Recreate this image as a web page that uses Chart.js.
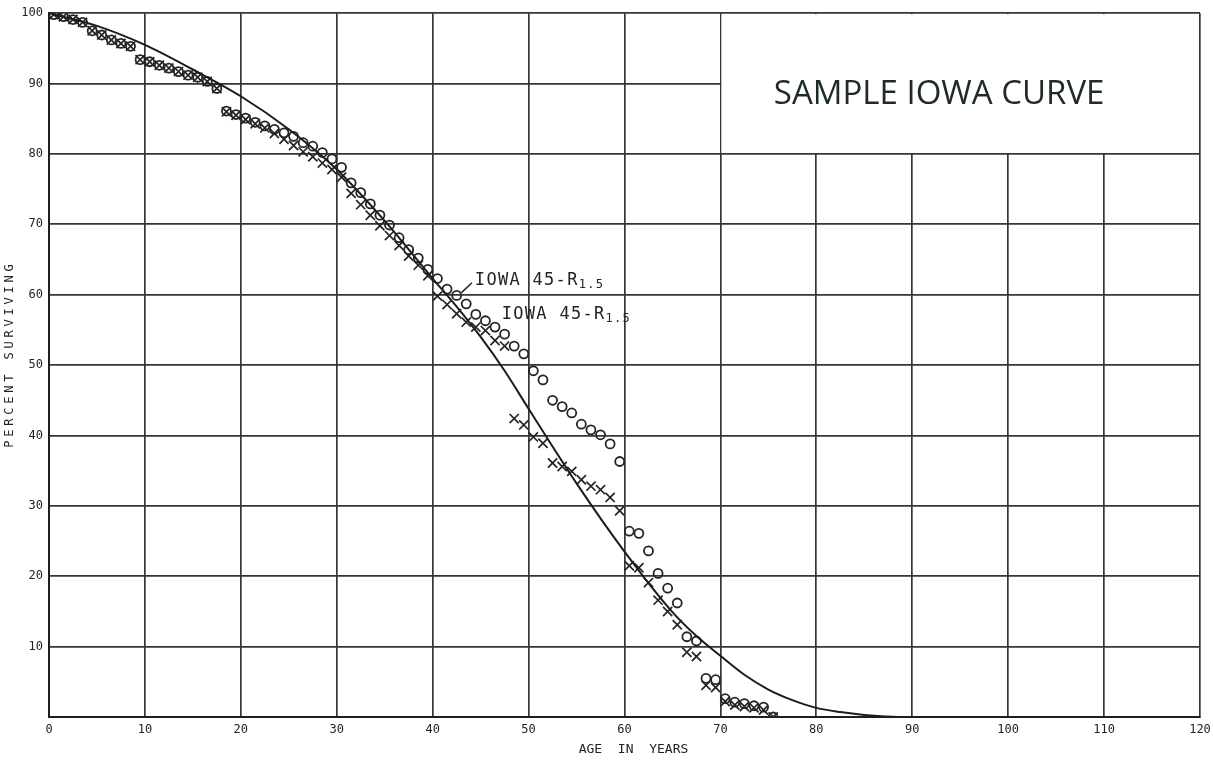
<!DOCTYPE html>
<html>
<head>
<meta charset="utf-8">
<title>Sample Iowa Curve</title>
<script src="https://cdn.jsdelivr.net/npm/chart.js@4/dist/chart.umd.min.js"></script>
<style>
  html, body { margin: 0; padding: 0; background: #fff; }
  #wrap { width: 1213px; height: 761px; }
</style>
</head>
<body>
<div id="wrap"><canvas id="iowa"></canvas></div>
<script>
// Sample Iowa curve - observed survivors vs. fitted 45-R1.5

// Age of each observed point (interval midpoints)
const AGES = [
  0.5, 1.5, 2.5, 3.5, 4.5, 5.5, 6.5, 7.5, 8.5, 9.5,
  10.5, 11.5, 12.5, 13.5, 14.5, 15.5, 16.5, 17.5, 18.5, 19.5,
  20.5, 21.5, 22.5, 23.5, 24.5, 25.5, 26.5, 27.5, 28.5, 29.5,
  30.5, 31.5, 32.5, 33.5, 34.5, 35.5, 36.5, 37.5, 38.5, 39.5,
  40.5, 41.5, 42.5, 43.5, 44.5, 45.5, 46.5, 47.5, 48.5, 49.5,
  50.5, 51.5, 52.5, 53.5, 54.5, 55.5, 56.5, 57.5, 58.5, 59.5,
  60.5, 61.5, 62.5, 63.5, 64.5, 65.5, 66.5, 67.5, 68.5, 69.5,
  70.5, 71.5, 72.5, 73.5, 74.5, 75.5
];

// Observed percent surviving, "o" symbols
const CIRCLE_PCT = [
  99.8, 99.5, 99.1, 98.7, 97.5, 96.9, 96.2, 95.7, 95.3, 93.4,
  93.1, 92.6, 92.2, 91.7, 91.2, 90.9, 90.3, 89.3, 86.1, 85.6,
  85.1, 84.5, 84.0, 83.5, 83.0, 82.5, 81.6, 81.1, 80.2, 79.3,
  78.1, 75.9, 74.5, 72.9, 71.3, 69.9, 68.1, 66.4, 65.2, 63.6,
  62.3, 60.8, 59.9, 58.7, 57.2, 56.3, 55.4, 54.4, 52.7, 51.6,
  49.2, 47.9, 45.0, 44.1, 43.2, 41.6, 40.8, 40.1, 38.8, 36.3,
  26.4, 26.1, 23.6, 20.4, 18.3, 16.2, 11.4, 10.8, 5.5, 5.3,
  2.6, 2.1, 1.9, 1.6, 1.4, 0
];

// Observed percent surviving, "x" symbols
const CROSS_PCT = [
  99.8, 99.5, 99.1, 98.7, 97.5, 96.9, 96.2, 95.7, 95.3, 93.4,
  93.1, 92.6, 92.2, 91.7, 91.2, 90.9, 90.3, 89.3, 86.0, 85.5,
  84.9, 84.3, 83.7, 82.9, 82.1, 81.2, 80.3, 79.6, 78.7, 77.8,
  76.7, 74.4, 72.8, 71.3, 69.8, 68.4, 67.0, 65.5, 64.2, 62.7,
  59.8, 58.6, 57.3, 56.1, 55.4, 54.9, 53.5, 52.7, 42.4, 41.5,
  39.8, 38.9, 36.1, 35.6, 34.9, 33.7, 32.8, 32.3, 31.2, 29.3,
  21.5, 21.2, 19.1, 16.6, 15.0, 13.1, 9.2, 8.6, 4.5, 4.2,
  2.2, 1.7, 1.5, 1.3, 1.0, 0
];

// Fitted Iowa 45-R1.5 curve
const CURVE_AGE = [0, 5, 10, 15, 20, 25, 30, 35, 40, 42.5, 45, 47.5, 50, 55, 60, 65, 67.5, 70, 72.5, 75, 77.5, 80, 82.5, 85, 88, 90];
const CURVE_PCT = [100, 98.2, 95.5, 92.0, 88.2, 83.5, 77.8, 70.5, 62.3, 58.3, 54.0, 49.2, 43.8, 33.2, 23.5, 14.9, 11.5, 8.7, 6.0, 3.9, 2.4, 1.3, 0.7, 0.3, 0.05, 0];

// Tick labels
const X_TICKS = [0, 10, 20, 30, 40, 50, 60, 70, 80, 90, 100, 110, 120];
const Y_TICKS = [10, 20, 30, 40, 50, 60, 70, 80, 90, 100];

const INK = '#242424';
const GRID = '#363636';
const MONO = "'DejaVu Sans Mono', monospace";

function toPoints(xs, ys) {
  return xs.map((x, i) => ({ x: x, y: ys[i] }));
}

// Title block in the upper right, axis titles and the curve labels
const iowaDecor = {
  id: 'iowaDecor',
  beforeDatasetsDraw(chart) {
    const { ctx, scales: { x, y } } = chart;
    const left = x.getPixelForValue(70);
    const right = x.getPixelForValue(120);
    const top = y.getPixelForValue(100);
    const bottom = y.getPixelForValue(80);
    ctx.save();
    ctx.fillStyle = '#fff';
    ctx.fillRect(left + 1, top + 1, right - left - 2, bottom - top - 2);
    ctx.restore();
  },
  afterDraw(chart) {
    const { ctx, chartArea, scales: { x, y } } = chart;
    ctx.save();

    // big caption
    ctx.fillStyle = '#1f2a2a';
    ctx.font = "33px 'Open Sans', sans-serif";
    ctx.textAlign = 'center';
    ctx.textBaseline = 'alphabetic';
    ctx.fillText('SAMPLE IOWA CURVE', x.getPixelForValue(92.8), y.getPixelForValue(87.1));

    // axis titles (plotter style, spaced out)
    ctx.fillStyle = INK;
    ctx.textBaseline = 'middle';
    ctx.font = '13px ' + MONO;
    ctx.fillText('AGE  IN  YEARS', (chartArea.left + chartArea.right) / 2 + 9, 750);
    ctx.save();
    ctx.translate(10, (chartArea.top + chartArea.bottom) / 2 - 11);
    ctx.rotate(-Math.PI / 2);
    ctx.letterSpacing = '3.8px';
    ctx.font = '12px ' + MONO;
    ctx.fillText('PERCENT SURVIVING', 0, 0);
    ctx.restore();

    // curve labels
    ctx.textAlign = 'left';
    ctx.textBaseline = 'alphabetic';
    ctx.letterSpacing = '1.3px';
    const labels = [
      { ax: 44.4, ay: 61.4 },
      { ax: 47.2, ay: 56.5 }
    ];
    labels.forEach(l => {
      const px = x.getPixelForValue(l.ax);
      const py = y.getPixelForValue(l.ay);
      ctx.font = '17px ' + MONO;
      ctx.fillText('IOWA 45-R', px, py);
      const w = ctx.measureText('IOWA 45-R').width;
      ctx.font = '12px ' + MONO;
      ctx.fillText('1.5', px + w, py + 3);
    });

    // leader line for the first label
    ctx.strokeStyle = INK;
    ctx.lineWidth = 1.5;
    ctx.beginPath();
    ctx.moveTo(x.getPixelForValue(43.0), y.getPixelForValue(60.3));
    ctx.lineTo(x.getPixelForValue(44.1), y.getPixelForValue(61.7));
    ctx.stroke();
    ctx.restore();
  }
};

const ctx = document.getElementById('iowa').getContext('2d');

new Chart(ctx, {
  type: 'scatter',
  data: {
    datasets: [
      {
        label: 'Iowa 45-R1.5',
        type: 'line',
        data: toPoints(CURVE_AGE, CURVE_PCT),
        borderColor: '#1c1c1c',
        borderWidth: 2,
        pointRadius: 0,
        fill: false,
        cubicInterpolationMode: 'monotone'
      },
      {
        label: 'Observed (o)',
        data: toPoints(AGES, CIRCLE_PCT),
        pointStyle: 'circle',
        pointRadius: 4.5,
        borderWidth: 1.8,
        borderColor: INK,
        backgroundColor: 'rgba(255,255,255,0)'
      },
      {
        label: 'Observed (x)',
        data: toPoints(AGES, CROSS_PCT),
        pointStyle: 'crossRot',
        pointRadius: 6.5,
        borderWidth: 1.7,
        borderColor: INK,
        backgroundColor: INK
      }
    ]
  },
  options: {
    responsive: true,
    maintainAspectRatio: false,
    animation: false,
    layout: {
      padding: { left: 0, top: 10, right: 13, bottom: 0 }
    },
    plugins: {
      legend: { display: false },
      tooltip: { enabled: false }
    },
    scales: {
      x: {
        type: 'linear',
        min: 0,
        max: 120,
        afterFit: s => { s.height = 44; s.paddingRight = 0; s.paddingLeft = 0; },
        afterBuildTicks: s => { s.ticks = X_TICKS.map(v => ({ value: v })); },
        grid: { color: GRID, lineWidth: 1.7, drawTicks: false },
        border: { display: true, color: '#1e1e1e', width: 2 },
        ticks: {
          padding: 6,
          color: INK,
          font: { family: MONO, size: 12 },
          maxRotation: 0
        }
      },
      y: {
        type: 'linear',
        min: 0,
        max: 100,
        afterFit: s => { s.width = 49; },
        afterBuildTicks: s => { s.ticks = [0].concat(Y_TICKS).map(v => ({ value: v })); },
        grid: { color: GRID, lineWidth: 1.7, drawTicks: false },
        border: { display: true, color: '#1e1e1e', width: 2 },
        ticks: {
          padding: 6,
          color: INK,
          font: { family: MONO, size: 12 },
          callback: v => (v === 0 ? '' : v)
        }
      }
    }
  },
  plugins: [iowaDecor]
});
</script>
</body>
</html>
